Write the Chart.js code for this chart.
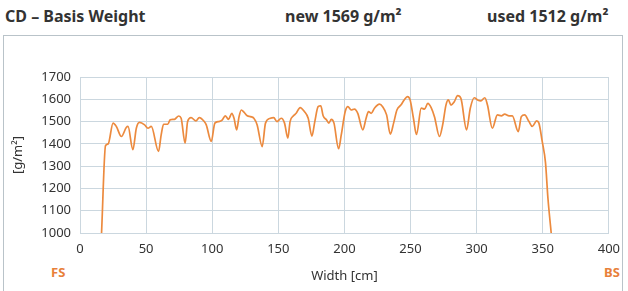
<!DOCTYPE html>
<html>
<head>
<meta charset="utf-8">
<script src="https://cdn.jsdelivr.net/npm/chart.js@4"></script>
<style>
  body { margin: 0; width: 628px; height: 291px; background: #fff; overflow: hidden; position: relative; font-family: "Noto Sans", sans-serif; }
  .head { position: absolute; top: 5px; font-weight: bold; font-size: 16px; color: #333; }
  .frame { position: absolute; left: 3px; top: 35px; width: 618px; height: 262px; border: 1px solid #b9c3c9; }
  .side { position: absolute; top: 263px; font-weight: bold; font-size: 13px; color: #e8803a; }
  #wrap { position: absolute; left: 0; top: 0; width: 628px; height: 291px; }
</style>
</head>
<body>
<div class="head" style="left:5px">CD – Basis Weight</div>
<div class="head" style="left:285px">new 1569 g/m²</div>
<div class="head" style="left:487px">used 1512 g/m²</div>
<div class="frame"></div>
<div class="side" style="left:51px">FS</div>
<div class="side" style="left:604px">BS</div>
<div id="wrap"><canvas id="chart" width="628" height="291"></canvas></div>
<script>
// width across the machine [cm]
const widthCm = [16.3, 19.3, 21.3, 25, 27.5, 31.3, 35, 36.3, 40, 42.6, 45, 48.9, 51.4, 53.9, 59.4, 61.4, 63.2, 66.4, 68.2, 71.4,
  74.7, 76.5, 79.5, 81.4, 84, 87.7, 90.2, 94, 95.5, 99.3, 102, 105, 107.7, 109.8, 112.3, 114.8, 116.5, 118.5, 120.3, 122,
  124, 126.5, 129, 131.5, 134, 137.8, 140.3, 144, 146.5, 149, 152.2, 154.7, 157.2, 158.9, 161.5, 163.5, 166.5, 169.7, 172.6, 175.4,
  177.6, 180.1, 182.1, 183.9, 186.4, 188.2, 190.1, 192.1, 195.6, 197.6, 200.6, 202.6, 205.1, 207.6, 210.1, 213.9, 216.4, 218.2, 220.2, 222.7,
  226.5, 228.9, 231.9, 234.7, 237.2, 239.7, 242.7, 245.2, 247.7, 249.7, 252.2, 254.5, 258.1, 260.6, 263.1, 265.6, 268.1, 271.9, 274.3, 276.8,
  278.6, 280.6, 283.1, 285.6, 288.1, 292.4, 295.2, 298.2, 300.7, 303.2, 306.2, 308.2, 311.9, 315.7, 318.7, 321.2, 324.5, 327, 331.5, 333.8,
  336.3, 339.6, 342.1, 345.4, 347.1, 349.6, 352.1, 353.9, 356.4];
// basis weight [g/m2]
const basisWeight = [1000, 1392, 1400, 1493, 1478, 1433, 1473, 1478, 1374, 1470, 1496, 1485, 1470, 1478, 1366, 1440, 1488, 1488, 1508, 1510,
  1525, 1515, 1403, 1500, 1518, 1503, 1518, 1500, 1485, 1411, 1493, 1500, 1508, 1526, 1510, 1537, 1515, 1463, 1522, 1552,
  1542, 1526, 1522, 1515, 1485, 1388, 1493, 1515, 1518, 1500, 1515, 1493, 1426, 1500, 1526, 1537, 1563, 1545, 1515, 1435,
  1500, 1567, 1571, 1526, 1508, 1493, 1510, 1493, 1378, 1440, 1545, 1567, 1552, 1556, 1537, 1463, 1515, 1545, 1537, 1560,
  1578, 1567, 1530, 1444, 1493, 1552, 1574, 1597, 1612, 1597, 1515, 1442, 1560, 1556, 1582, 1563, 1522, 1433, 1485, 1574,
  1597, 1574, 1589, 1616, 1604, 1463, 1560, 1607, 1597, 1593, 1607, 1574, 1470, 1530, 1526, 1533, 1526, 1526, 1455, 1522,
  1530, 1500, 1478, 1503, 1493, 1411, 1315, 1158, 1000];

const points = widthCm.map((x, i) => ({ x: x, y: basisWeight[i] }));

new Chart(document.getElementById('chart'), {
  type: 'line',
  data: {
    datasets: [{
      data: points,
      borderColor: '#ec8a3e',
      borderWidth: 1.7,
      pointRadius: 0,
      cubicInterpolationMode: 'monotone',
      fill: false
    }]
  },
  options: {
    responsive: false,
    animation: false,
    events: [],
    layout: { padding: { left: 0, top: 77, right: 16, bottom: 0 } },
    plugins: { legend: { display: false }, tooltip: { enabled: false } },
    scales: {
      x: {
        type: 'linear', min: 0, max: 400,
        ticks: { stepSize: 50, color: '#333', font: { family: 'Noto Sans', size: 13 }, padding: 8, callback: v => String(v) },
        grid: { color: '#cbd7df', drawTicks: false },
        border: { color: '#cbd7df' },
        title: { display: true, text: 'Width [cm]', color: '#333', font: { family: 'Noto Sans', size: 13 }, padding: { top: 2, bottom: 7 } },
        afterFit: s => { s.height = 58; }
      },
      y: {
        min: 1000, max: 1700,
        ticks: { stepSize: 100, color: '#333', font: { family: 'Noto Sans', size: 13 }, padding: 9, callback: v => String(v) },
        grid: { color: '#cbd7df', drawTicks: false },
        border: { color: '#cbd7df' },
        title: { display: true, text: '[g/m²]', color: '#333', font: { family: 'Noto Sans', size: 13 }, padding: { top: 10, bottom: 0 } },
        afterFit: s => { s.width = 80; }
      }
    }
  }
});
</script>
</body>
</html>
